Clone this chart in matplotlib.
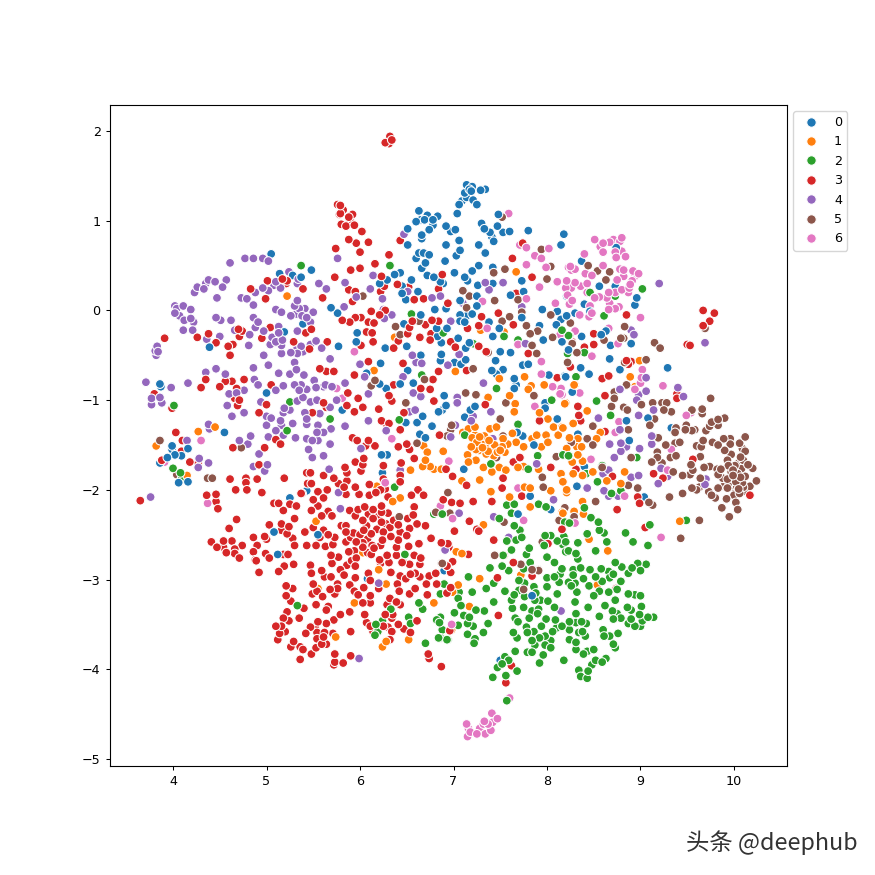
import numpy as np
import matplotlib
matplotlib.use('Agg')
import matplotlib.pyplot as plt
from matplotlib.lines import Line2D

labels = ['0', '1', '2', '3', '4', '5', '6']
colors = ['#1f77b4', '#ff7f0e', '#2ca02c', '#d62728', '#9467bd', '#8c564b', '#e377c2']

class_0 = [(5.05,0.63),(5.14,0.41),(5.28,0.39),(5.37,0.37),(5.48,0.45),(5.39,-0.15),(5.19,-0.24),(5.69,0.03),(5.76,-0.03),(4.39,-0.41),(5.77,-0.40),
(6.63,1.11),(6.69,1.01),(6.72,1.06),(6.83,1.05),(6.78,1.01),(6.60,0.99),(6.65,1.01),(6.78,0.95),(6.74,0.90),(6.51,0.91),(6.66,0.84),(6.66,0.80),(6.51,0.73),(6.92,0.94),(6.97,0.88),(7.02,0.90),(7.06,0.78),(6.92,0.73),(7.07,0.67),(7.03,0.61),(6.63,0.64),(6.68,0.64),(6.74,0.62),(6.60,0.58),(6.70,0.53),(6.66,0.47),(6.91,0.55),(7.14,1.40),(7.20,1.38),(7.17,1.35),(7.12,1.31),(7.19,1.33),(7.34,1.35),(7.29,1.34),(7.14,1.26),(7.21,1.23),(7.25,1.18),(7.06,1.18),(7.09,1.22),(7.04,1.08),(7.48,1.07),(7.30,0.97),(7.33,0.91),(7.47,0.94),(7.53,0.87),(7.60,0.88),(7.80,0.89),(8.18,0.85),(8.15,0.73),(7.39,0.87),(7.41,0.82),(7.43,0.77),(7.27,0.73),(7.34,0.64),(7.27,0.50),(7.20,0.44),(7.01,0.42),(7.12,0.37),(7.15,0.33),(6.72,0.39),(6.79,0.37),(6.86,0.32),(6.89,0.30),(6.55,0.34),(6.29,0.34),(6.37,0.40),(6.43,0.42),(6.21,0.30),(6.45,0.27),(6.45,0.19),(6.49,0.12),(6.62,0.21),(6.80,0.01),(6.92,0.02),(7.26,0.28),(7.42,0.48),(7.42,0.30),(7.73,0.33),(7.61,0.17),(7.75,0.21),(7.07,0.11),(7.25,0.16),(7.25,0.05),(7.07,-0.05),(7.14,-0.06),(7.20,-0.04),(7.07,-0.12),(7.12,-0.13),(7.38,-0.13),(7.73,-0.08),(7.95,0.01),(8.11,-0.01),(7.92,-0.17),(8.10,-0.16),(8.15,-0.10),(6.65,-0.05),(6.82,-0.20),(6.83,-0.29),(6.93,-0.20),(6.87,-0.36),(7.05,-0.31),(7.17,-0.36),(7.13,-0.42),(7.42,-0.29),(7.49,-0.20),(7.96,-0.33),(8.16,-0.35),(5.97,-0.25),(5.96,-0.35),(6.47,-0.15),(6.50,-0.40),(6.27,-0.42),
(8.74,0.70),(8.37,0.55),(8.56,0.27),(8.73,0.27),(8.21,0.16),(8.96,0.14),(8.94,0.06),(8.40,0.07),(8.30,-0.03),(8.46,-0.01),(8.21,-0.06),(8.37,-0.29),(8.58,-0.27),(8.63,-0.23),(8.90,-0.37),(8.68,-0.39),(8.23,-0.44),(8.67,-0.54),(8.36,-0.64),(8.78,-0.66),(9.29,-0.64),(8.45,-0.71),(8.19,-0.73),
(3.86,-0.82),(3.87,-0.85),(4.55,-1.36),(3.99,-1.51),(3.99,-1.55),(4.16,-1.54),(4.02,-1.61),(4.09,-1.62),(3.94,-1.64),(3.86,-1.70),(4.16,-1.91),(4.06,-1.92),(5.0,-0.92),(5.08,-2.47),(5.12,-2.72),(5.55,-2.50),(5.25,-2.09),(5.43,-2.01),
(6.65,-0.50),(6.87,-0.49),(6.86,-0.56),(6.51,-0.67),(6.22,-0.59),(6.07,-0.70),(6.21,-0.82),(6.28,-0.87),(6.43,-0.82),(6.57,-0.81),(7.01,-0.58),(7.08,-0.60),(7.13,-0.55),(6.90,-0.95),(6.92,-1.06),(6.88,-1.11),(6.84,-1.13),(6.67,-1.18),(6.49,-1.25),(6.61,-1.25),(6.77,-1.29),(6.64,-1.38),(6.70,-1.42),(6.23,-1.61),(6.29,-1.61),(6.24,-1.81),(7.11,-1.77),(7.12,-1.19),(7.23,-1.07),(7.18,-1.11),(7.41,-0.67),(7.46,-0.71),(7.53,-0.66),(7.45,-0.56),(7.50,-0.46),(7.61,-0.47),(7.74,-0.61),(7.80,-0.60),(7.65,-0.76),(7.67,-0.83),(7.65,-0.87),(8.02,-0.72),(7.98,-1.03),(7.98,-1.09),(7.68,-1.36),(7.74,-1.40),(7.86,-1.50),(8.11,-1.21),(7.82,-2.07),(8.04,-2.22),(7.69,-2.27),(6.90,-2.90),(5.81,-1.11),(8.20,-0.74),
(8.27,-0.91),(8.85,-1.23),(9.08,-1.20),(9.33,-1.31),(8.88,-1.45),(8.33,-1.38),(8.40,-1.74),(8.32,-1.96),(9.04,-2.08),
(6.08,-2.99),(7.84,-3.18),(7.50,-3.90)]

class_1 = [(5.22,0.16),(7.67,0.43),(7.29,-0.22),(6.37,-0.30),(7.54,-0.24),(8.89,-0.74),(8.29,-0.83),(8.99,-0.56),(8.94,-0.85),
(4.27,-1.35),(4.45,-1.30),(3.82,-1.51),(4.15,-1.84),(5.53,-2.35),
(6.15,-0.67),(7.02,-0.68),(7.76,-0.74),(7.83,-0.84),(7.80,-0.88),(7.97,-0.83),(7.60,-0.95),(7.66,-1.04),(7.37,-0.97),(7.49,-0.76),(7.92,-1.14),(7.65,-1.13),(8.20,-1.03),(7.16,-1.32),(7.23,-1.30),(7.10,-1.36),(7.23,-1.39),(7.33,-1.40),(7.32,-1.46),(7.25,-1.47),(7.19,-1.52),(7.24,-1.55),(7.15,-1.61),(7.34,-1.52),(7.35,-1.60),(7.41,-1.53),(7.50,-1.56),(7.53,-1.43),(7.58,-1.49),(7.67,-1.47),(7.55,-1.58),(7.63,-1.37),(7.46,-1.30),(7.39,-1.32),(7.24,-1.67),(7.16,-1.69),(7.32,-1.75),(7.49,-1.75),(7.56,-1.78),(7.41,-1.80),(7.28,-1.89),(7.09,-1.90),(7.40,-2.02),(7.75,-1.52),(7.84,-1.43),(7.89,-1.39),(7.99,-1.39),(8.01,-1.21),(8.07,-1.30),(8.16,-1.30),(8.21,-1.54),(8.12,-1.39),(7.94,-1.52),(8.01,-1.47),(7.69,-1.75),(7.75,-1.74),(7.91,-1.77),(8.15,-1.82),(8.17,-1.91),(8.21,-2.03),(8.04,-2.01),(7.60,-2.08),(7.82,-2.19),(7.76,-1.97),(7.82,-1.98),(6.68,-1.51),(6.72,-1.58),(6.70,-1.67),(6.75,-1.74),(6.67,-1.74),(6.79,-1.77),(6.87,-1.77),(6.54,-1.78),(6.89,-1.57),(6.18,-1.96),(6.43,-2.09),(6.35,-2.13),(7.32,-2.39),(7.03,-2.69),(7.09,-2.71),(6.03,-2.70),(8.16,-2.25),
(8.30,-0.83),(8.19,-1.04),(8.43,-1.12),(8.28,-1.26),(8.17,-1.31),(8.57,-1.36),(8.24,-1.42),(8.33,-1.43),(8.53,-1.43),(8.32,-1.52),(8.37,-1.52),(8.33,-1.61),(8.27,-1.69),(8.38,-1.68),(8.15,-1.82),(8.28,-1.82),(8.49,-1.80),(8.38,-1.84),(8.83,-1.80),(8.64,-1.90),(8.17,-1.90),(8.79,-1.93),(8.21,-2.0),(8.38,-2.13),(8.29,-2.24),(8.17,-2.26),(8.39,-2.27),(9.42,-2.35),(8.45,-2.55),(8.65,-2.68),(8.54,-3.06),
(6.20,-2.89),(6.28,-3.05),(5.94,-3.26),(5.55,-3.10),(5.74,-3.64),(6.28,-3.69),(6.24,-3.75),(6.52,-3.67),(6.79,-3.26),
(7.72,-2.95),(7.28,-2.99),(7.05,-3.06),(6.99,-3.14),(7.17,-3.30),(8.54,-3.05),(6.98,-3.56),
(7.37,-1.57),(7.31,-1.53),(7.44,-1.50),(7.47,-1.58),(7.28,-1.41),(7.38,-1.45),(7.52,-1.52),(7.27,-1.56),(7.43,-1.62),(7.20,-1.42)]

class_2 = [(5.37,0.50),(6.32,0.50),(6.55,-0.04),(8.16,-0.22),(7.69,-0.33),(7.54,-0.29),(6.89,-0.25),(8.23,-0.28),(7.21,-0.37),
(9.02,0.24),(8.61,-0.06),(8.46,0.20),(8.73,0.16),(8.24,-0.28),(8.40,-0.47),(8.31,-0.74),(8.22,-0.48),
(4.01,-1.06),(4.0,-1.76),(4.08,-1.81),(4.09,-1.88),(5.22,-1.34),(5.25,-1.02),(5.68,-1.21),
(6.66,-0.72),(6.42,-1.22),(7.46,-0.87),(8.05,-1.0),(7.69,-1.27),(7.12,-1.39),(7.90,-1.62),(7.80,-1.77),(8.17,-1.61),(8.23,-1.62),(7.40,-1.71),(6.37,-1.97),(6.79,-2.27),(6.88,-2.27),(7.57,-2.17),(7.65,-2.16),(7.91,-2.16),(7.99,-2.19),(7.62,-2.26),(7.49,-2.32),(7.65,-2.40),(7.71,-2.45),(7.73,-2.53),(7.67,-2.56),(7.57,-2.57),(7.62,-2.67),(7.53,-2.73),(7.81,-2.65),(7.78,-2.72),(7.98,-2.51),(8.04,-2.51),(8.11,-2.57),(7.97,-2.62),(8.17,-2.61),(8.23,-2.68),(8.0,-2.75),(6.48,-2.72),
(8.53,-1.01),(8.68,-1.17),(8.96,-1.64),(8.24,-1.62),(8.18,-1.61),(8.42,-1.82),(8.59,-1.73),(8.54,-1.91),(8.79,-2.01),(8.69,-2.04),(8.40,-2.20),(8.47,-2.31),(8.55,-2.36),(8.61,-2.48),(8.56,-2.45),(8.24,-2.37),(8.19,-2.36),(8.43,-2.49),(8.18,-2.52),(8.20,-2.58),(8.33,-2.59),(8.64,-2.58),(8.52,-2.68),(8.31,-2.71),(8.33,-2.77),(8.20,-2.69),(8.84,-2.48),(8.92,-2.58),(9.08,-2.62),(9.10,-2.39),(9.49,-2.34),
(5.33,-3.29),(6.90,-3.05),(6.86,-3.16),(6.63,-3.26),(6.67,-3.33),(6.52,-3.42),(6.54,-3.49),(6.33,-3.33),(6.24,-3.46),(6.17,-3.50),(6.19,-3.58),(6.16,-3.62),(6.70,-3.71),(6.84,-3.65),(6.93,-3.67),(6.88,-3.56),(6.85,-3.48),(6.82,-3.45),(6.86,-3.42),
(7.39,-2.87),(7.16,-2.97),(7.52,-2.85),(7.59,-2.90),(7.75,-2.88),(7.82,-2.81),(8.08,-2.81),(8.16,-2.88),(8.28,-2.89),(8.36,-2.87),(8.46,-2.89),(8.58,-2.88),(8.73,-2.81),(8.80,-2.86),(8.91,-2.87),(8.97,-2.82),(9.06,-2.83),(9.0,-2.90),(8.87,-2.93),(8.66,-2.91),(8.71,-2.94),(8.0,-2.98),(8.08,-2.97),(8.14,-2.94),(8.28,-2.95),(8.39,-2.99),(8.52,-2.97),(8.59,-3.02),(8.67,-2.98),(8.79,-3.02),(7.43,-3.04),(7.70,-3.01),(7.76,-3.04),(7.86,-3.08),(8.0,-3.08),(8.13,-3.03),(8.23,-3.03),(8.26,-3.07),(8.30,-3.04),(8.45,-3.07),(8.56,-3.13),(8.66,-3.14),(8.75,-3.11),(7.35,-3.10),(7.20,-3.14),(7.06,-3.14),(6.90,-3.05),(7.05,-3.21),(7.55,-3.13),(7.65,-3.17),(7.70,-3.12),(7.88,-3.15),(8.11,-3.16),(8.32,-3.14),(8.50,-3.18),(8.87,-3.16),(8.94,-3.17),(9.0,-3.18),(8.73,-3.23),(7.62,-3.23),(7.76,-3.19),(7.87,-3.23),(7.93,-3.23),(8.01,-3.24),(8.30,-3.25),(7.43,-3.25),(7.08,-3.29),(7.01,-3.37),(7.11,-3.40),(7.24,-3.34),(7.33,-3.35),(7.17,-3.42),(7.63,-3.32),(7.75,-3.31),(7.84,-3.35),(7.91,-3.33),(7.90,-3.38),(8.08,-3.31),(8.44,-3.31),(8.62,-3.29),(9.01,-3.30),(8.86,-3.31),(8.90,-3.34),(8.70,-3.35),(8.75,-3.38),(8.99,-3.39),(8.56,-3.41),(8.31,-3.38),(7.66,-3.43),(7.69,-3.47),(7.81,-3.43),(7.99,-3.44),(8.09,-3.45),(8.24,-3.47),(8.31,-3.48),(8.42,-3.49),(8.37,-3.47),(8.71,-3.44),(8.79,-3.43),(8.90,-3.44),(9.08,-3.42),(9.14,-3.42),(9.02,-3.46),(8.87,-3.49),(8.94,-3.52),(9.0,-3.52),(7.05,-3.51),(7.37,-3.49),(7.15,-3.49),(7.21,-3.52),(7.15,-3.61),(7.32,-3.59),(7.23,-3.66),(7.22,-3.71),(6.94,-3.67),(6.88,-3.56),(7.78,-3.53),(7.94,-3.52),(8.10,-3.54),(8.16,-3.52),(8.24,-3.56),(7.64,-3.59),(7.68,-3.65),(7.79,-3.59),(7.86,-3.58),(8.06,-3.58),(7.92,-3.65),(7.98,-3.63),(7.84,-3.68),(8.04,-3.68),(8.24,-3.67),(8.31,-3.70),(8.38,-3.58),(8.41,-3.63),(8.34,-3.59),(8.60,-3.56),(8.76,-3.60),(8.67,-3.63),(8.61,-3.63),(8.71,-3.72),(8.73,-3.76),(7.98,-3.73),(7.87,-3.73),(8.04,-3.76),(7.96,-3.84),(7.66,-3.80),(7.79,-3.81),(7.84,-3.81),(8.31,-3.78),(8.39,-3.83),(8.43,-3.80),(8.50,-3.78),(8.18,-3.90),(7.92,-3.93),(8.52,-3.90),(8.63,-3.88),(8.59,-3.92),(8.48,-3.95),(8.34,-4.01),(8.44,-4.02),(8.36,-4.08),(8.43,-4.10),(7.55,-3.86),(7.59,-3.90),(7.68,-4.02),(7.47,-3.98),(7.52,-3.94),(7.56,-4.07),(7.42,-4.09),(7.57,-4.35),(6.86,-3.65)]

class_3 = [(6.32,1.94),(6.27,1.87),(6.31,1.86),(6.34,1.90),
(3.91,-0.31),(4.26,-0.30),(4.38,-0.26),(4.46,-0.36),(4.59,-0.40),(4.64,-0.38),(4.71,-0.29),(4.70,-0.21),(4.74,-0.23),(4.95,-0.31),(5.04,-0.19),(5.29,-0.35),(5.42,-0.25),(5.48,-0.21),(5.65,-0.35),(5.46,-0.43),(4.83,0.24),(4.99,0.13),(5.01,0.33),(5.17,0.35),(5.22,0.33),(5.21,0.30),(5.39,0.24),(5.60,0.14),(5.73,0.37),(5.74,0.69),(5.76,1.18),(5.78,1.07),
(5.79,1.17),(5.82,1.12),(5.79,1.08),(5.92,1.07),(5.89,1.01),(5.85,0.94),(5.94,0.95),(5.80,0.96),(5.88,1.04),(6.02,0.88),(5.88,0.79),(5.96,0.75),(6.09,0.76),(6.0,0.65),(5.90,0.45),(6.0,0.47),(6.16,0.52),(6.31,0.62),(6.43,0.78),(5.88,0.23),(5.95,0.21),(5.92,0.10),(6.23,0.38),(6.26,0.27),(6.22,0.21),(6.40,0.29),(6.52,0.26),(6.58,0.12),(6.68,0.13),(6.84,0.24),(6.88,0.40),(6.94,0.08),(6.12,-0.01),(6.21,-0.05),(6.27,0.0),(5.81,-0.11),(5.89,-0.13),(5.95,-0.08),(6.01,-0.08),(6.09,-0.13),(6.15,-0.14),(6.07,-0.24),(6.13,-0.25),(6.14,-0.35),(6.01,-0.39),(6.36,-0.42),(6.51,-0.26),(6.56,-0.12),(6.53,-0.19),(6.70,-0.16),(6.77,-0.11),(6.84,-0.12),(6.64,-0.30),(6.76,-0.26),(6.75,-0.33),(6.41,-0.34),(6.97,-0.35),(7.02,-0.41),(7.15,-0.20),(7.30,-0.07),(7.27,-0.17),(7.48,-0.03),(7.27,-0.40),(7.64,-0.16),(7.63,0.58),(7.74,0.75),(7.84,0.37),(7.67,0.19),
(8.85,-0.05),(9.67,0.0),(9.79,-0.03),(9.74,-0.12),(9.67,-0.17),(9.50,-0.38),(9.53,-0.39),(8.50,-0.26),(8.50,-0.38),(8.40,-0.41),(8.85,-0.56),(8.90,-0.57),(8.87,-0.60),(8.66,-0.73),(8.59,-0.76),(8.25,-0.63),(8.27,-0.35),
(4.61,-0.50),(4.35,-0.77),(4.30,-0.86),(4.50,-0.85),(4.56,-0.79),(4.63,-0.79),(4.76,-0.77),(4.68,-0.87),(4.66,-0.98),(4.71,-1.0),(4.69,-1.06),(3.80,-0.93),(3.99,-1.09),(4.03,-1.36),(4.10,-1.45),(4.64,-1.53),(4.98,-1.53),(5.10,-1.44),(5.15,-1.49),(4.92,-1.14),(5.0,-1.05),(5.05,-0.83),(5.57,-0.65),(5.64,-0.68),(5.72,-0.68),(5.49,-1.14),(5.61,-1.03),(5.64,-1.08),(4.18,-1.69),(4.27,-1.70),(4.92,-1.72),(3.88,-1.67),(4.09,-1.57),(3.65,-2.12),(4.36,-2.06),(4.46,-2.05),(4.46,-2.13),(4.48,-2.21),(4.61,-1.88),(4.78,-1.87),(4.78,-1.92),(4.90,-1.88),(4.67,-2.0),(4.79,-2.0),(4.95,-2.03),(5.19,-1.87),(5.08,-2.15),(5.13,-2.15),(5.25,-2.16),(5.18,-2.23),(5.32,-2.18),(5.37,-2.04),(5.43,-1.81),(5.47,-1.81),(5.44,-1.93),(5.48,-1.93),(5.38,-2.04),(5.50,-2.11),(5.55,-2.02),(5.61,-2.09),(5.65,-2.0),(5.61,-1.84),(5.72,-1.87),(5.77,-1.93),(5.55,-2.18),(5.48,-2.23),(5.66,-2.24),(5.59,-2.29),(5.70,-2.29),(5.30,-2.32),(5.03,-2.39),(5.16,-2.38),(5.24,-2.41),(5.22,-2.49),(5.16,-2.45),(5.50,-2.42),(5.41,-2.47),(5.61,-2.45),(5.66,-2.50),(5.73,-2.53),(5.28,-2.54),(5.30,-2.62),(5.43,-2.62),(5.53,-2.62),(5.63,-2.63),(5.71,-2.61),(5.57,-2.53),(4.68,-2.33),(4.60,-2.43),(4.41,-2.58),(4.47,-2.64),(4.54,-2.57),(4.63,-2.57),(4.54,-2.64),(4.74,-2.62),(4.57,-2.70),(4.66,-2.66),(4.66,-2.71),(4.71,-2.76),(4.86,-2.53),(4.98,-2.52),(5.0,-2.55),(4.90,-2.62),(4.86,-2.69),(4.88,-2.78),(4.99,-2.71),(5.03,-2.76),(5.18,-2.72),(5.23,-2.72),(5.77,-2.75),(5.69,-2.73),
(5.94,-0.72),(5.98,-0.98),(5.87,-0.92),(5.86,-1.06),(5.94,-1.13),(6.03,-1.08),(6.20,-1.10),(6.31,-0.95),(6.34,-1.01),(6.36,-0.83),(6.46,-0.59),(6.65,-0.87),(6.75,-0.88),(6.78,-0.77),(6.84,-0.68),(6.79,-1.01),(6.47,-1.14),(6.23,-1.23),(6.31,-1.26),(6.43,-1.33),(6.29,-1.28),(5.92,-1.42),(5.97,-1.45),(6.09,-1.45),(6.16,-1.51),(6.06,-1.51),(6.41,-1.52),(6.53,-1.55),(6.50,-1.49),(6.58,-1.65),(5.95,-1.69),(6.04,-1.65),(6.03,-1.72),(6.01,-1.79),(5.84,-1.75),(5.86,-1.81),(6.25,-1.73),(6.44,-1.70),(6.43,-1.84),(6.43,-1.91),(6.25,-1.88),(6.99,-1.85),(6.85,-1.39),(6.92,-1.77),(7.14,-1.95),(5.86,-1.90),(5.83,-1.97),(5.95,-1.97),(5.85,-2.05),(5.99,-2.05),(6.10,-1.94),(6.10,-2.06),(6.17,-2.03),(6.22,-2.0),(6.27,-1.99),(6.30,-2.08),(6.23,-2.18),(6.55,-2.06),(6.62,-2.0),(6.68,-2.06),(6.58,-2.19),(5.89,-2.23),(5.98,-2.22),(6.05,-2.19),(6.14,-2.22),(6.23,-2.25),(6.09,-2.27),(6.30,-2.26),(6.57,-2.28),(6.51,-2.32),(6.03,-2.34),(5.95,-2.29),(6.14,-2.32),(6.23,-2.36),(6.36,-2.34),(6.32,-2.42),(6.41,-2.39),(6.61,-2.38),(6.70,-2.40),(6.53,-2.43),(5.85,-2.40),(5.80,-2.40),(5.85,-2.47),(5.93,-2.48),(6.04,-2.45),(6.25,-2.47),(6.12,-2.49),(6.33,-2.52),(6.50,-2.51),(7.01,-2.46),(6.76,-2.54),(6.63,-2.60),(6.41,-2.56),(6.24,-2.56),(5.85,-2.58),(5.96,-2.58),(6.03,-2.59),(6.13,-2.62),(6.22,-2.62),(6.39,-2.64),(6.52,-2.63),(5.88,-2.69),(5.94,-2.68),(6.03,-2.64),(6.29,-2.73),(6.39,-2.73),(6.58,-2.73),(6.12,-2.72),(6.21,-2.78),(5.91,-2.79),(5.96,-2.76),(6.46,-2.80),(6.65,-2.76),(6.87,-2.59),(6.94,-2.60),(6.95,-2.64),(7.16,-2.72),(7.25,-2.44),(7.17,-2.35),(7.27,-2.46),(7.07,-2.15),(7.21,-2.13),(6.98,-2.14),(6.89,-2.11),(7.92,-1.23),(8.04,-1.75),(7.53,-1.87),(7.52,-1.98),(7.73,-2.07),(7.41,-2.13),(7.64,-1.69),(7.71,-1.64),(7.34,-1.05),(7.14,-0.67),(7.80,-0.48),(8.11,-0.75),(7.43,-2.56),(8.01,-2.60),(7.54,-2.73),(7.35,-0.46),(6.09,-0.57),
(8.62,-0.95),(9.39,-0.93),(9.39,-0.98),(8.33,-1.07),(8.34,-1.17),(8.36,-1.23),(8.62,-1.35),(9.56,-1.66),(9.14,-1.82),(9.24,-1.87),(8.70,-1.85),(8.31,-1.77),(8.97,-2.08),(8.99,-2.15),(8.75,-2.22),(10.17,-2.06),(9.05,-2.42),(8.16,-2.44),(8.74,-3.10),
(4.89,-2.79),(4.92,-2.92),(5.13,-2.91),(5.19,-2.85),(5.29,-2.83),(5.48,-2.93),(5.47,-2.84),(5.59,-2.90),(5.62,-2.97),(5.69,-2.97),(5.70,-2.82),(5.79,-2.89),(5.83,-2.95),(5.86,-2.84),(5.95,-2.85),(5.95,-2.98),(6.09,-2.93),(6.11,-3.01),(6.20,-3.10),(6.33,-2.92),(6.31,-2.81),(6.22,-2.82),(6.43,-2.96),(6.49,-2.99),(6.54,-2.94),(6.59,-2.93),(6.64,-2.97),(6.53,-2.83),(6.64,-2.83),(6.45,-2.81),(6.74,-2.96),(6.81,-2.93),(6.71,-3.05),(6.82,-3.05),(6.59,-3.10),(6.40,-3.05),(6.42,-3.13),(6.53,-3.16),(6.72,-3.17),(6.93,-3.15),(6.93,-2.85),(5.21,-3.07),(5.28,-3.10),(5.21,-3.18),(5.26,-3.24),(5.40,-3.32),(5.22,-3.36),(5.18,-3.43),(5.24,-3.46),(5.35,-3.43),(5.10,-3.52),(5.16,-3.52),(5.20,-3.58),(5.14,-3.60),(5.12,-3.67),(5.29,-3.69),(5.26,-3.75),(5.36,-3.75),(5.39,-3.78),(5.36,-3.89),(5.48,-3.83),(5.50,-3.05),(5.54,-3.13),(5.49,-3.16),(5.60,-3.19),(5.68,-3.11),(5.76,-3.05),(5.73,-3.16),(5.76,-3.10),(5.89,-3.06),(5.94,-3.13),(5.98,-3.17),(6.04,-3.09),(6.11,-3.18),(6.11,-3.26),(6.03,-3.26),(6.29,-3.28),(6.32,-3.21),(6.39,-3.25),(6.43,-3.28),(5.53,-3.28),(5.66,-3.30),(5.64,-3.34),(5.79,-3.39),(5.89,-3.36),(6.05,-3.39),(6.27,-3.39),(6.35,-3.39),(6.34,-3.43),(6.07,-3.48),(5.72,-3.45),(5.64,-3.49),(5.55,-3.47),(5.47,-3.53),(5.52,-3.52),(5.42,-3.60),(5.54,-3.59),(5.62,-3.59),(5.71,-3.60),(5.90,-3.58),(5.61,-3.64),(5.54,-3.66),(5.64,-3.72),(5.59,-3.72),(5.53,-3.76),(5.73,-3.83),(5.90,-3.85),(5.73,-3.92),(5.72,-3.95),(5.82,-3.93),(6.11,-3.52),(6.14,-3.58),(6.25,-3.52),(6.30,-3.53),(6.34,-3.58),(6.41,-3.50),(6.47,-3.55),(6.54,-3.59),(6.61,-3.46),(6.32,-3.67),(6.73,-3.83),(6.74,-3.88),(6.87,-3.97),
(7.48,-3.40),(7.62,-3.96),(7.56,-4.15),(7.64,-2.81),(7.84,-2.96),(7.47,-2.98),(8.74,-3.10),(6.99,-2.80),(6.97,-2.92),(6.93,-2.85),(6.97,-3.09),(6.93,-3.15),(6.96,-3.57),
(6.07,-2.40),(6.18,-2.44),(6.08,-2.55),(6.19,-2.30),(6.28,-2.38),(6.00,-2.50),(6.15,-2.65),(6.08,-2.70),(5.90,-2.53),(6.43,-2.47)]

class_4 = [(4.77,0.58),(4.86,0.58),(4.96,0.58),(5.02,0.55),(4.61,0.53),(4.57,0.34),(4.53,0.26),(4.45,0.32),(4.35,0.30),(4.38,0.34),(4.26,0.26),(4.33,0.24),(4.23,0.20),(4.47,0.14),(4.11,0.05),(4.02,0.05),(4.04,0.02),(4.19,0.01),(4.02,-0.03),(4.07,-0.06),(4.19,-0.09),(4.22,-0.13),(4.12,-0.11),(4.11,-0.22),(4.21,-0.22),(4.46,-0.08),(4.51,-0.11),(4.62,-0.11),(4.86,-0.08),(4.91,-0.13),(4.88,-0.19),(4.66,-0.22),(4.82,-0.27),(4.50,-0.29),(4.36,-0.32),(3.83,-0.40),(3.81,-0.45),(4.86,0.06),(4.73,0.14),(4.79,0.13),(4.88,0.20),(4.96,0.25),(5.02,0.22),(5.10,0.32),(5.08,0.28),(5.15,0.25),(5.24,0.43),(5.33,0.30),(5.34,0.35),(5.56,0.30),(5.64,0.24),(5.76,0.58),(5.33,0.11),(5.30,0.05),(5.35,0.02),(5.41,0.02),(5.50,-0.02),(5.38,-0.06),(5.26,-0.06),(5.32,-0.04),(5.43,-0.08),(5.47,-0.13),(5.10,0.01),(5.16,-0.02),(5.13,-0.18),(4.97,-0.23),(5.13,-0.25),(5.33,-0.23),(5.06,-0.30),(5.17,-0.33),(5.10,-0.35),(5.04,-0.38),(5.16,-0.39),(4.81,-0.39),(5.37,-0.40),(5.53,-0.34),(5.47,-0.38),(5.59,-0.42),(5.32,-0.44),
(6.47,0.85),(5.84,0.31),(6.14,0.39),(6.11,0.24),(5.96,0.15),(6.24,0.13),(5.83,0.04),(6.25,0.01),(6.34,-0.05),(6.26,-0.09),(6.51,0.21),(6.77,0.14),(6.86,0.16),(7.34,0.31),(7.38,0.23),(7.53,0.31),(7.10,0.08),(6.97,-0.12),(7.73,0.04),(7.77,-0.37),
(9.20,0.30),(8.90,-0.22),(8.93,-0.27),(9.69,-0.36),(9.06,-0.75),(9.40,-0.86),(8.78,-0.88),
(3.82,-0.50),(3.84,-0.46),(3.71,-0.80),(3.98,-0.86),(4.16,-0.81),(3.77,-0.98),(3.86,-0.97),(3.77,-1.05),(3.88,-1.03),(4.38,-1.27),(4.39,-1.32),(4.71,-1.45),(4.80,-1.49),(4.83,-1.40),(4.92,-1.60),(4.86,-1.74),(4.98,-1.79),(5.01,-1.72),(4.38,-1.70),(4.27,-1.75),(4.28,-1.65),(3.76,-2.08),(4.15,-1.45),(4.35,-0.69),(4.46,-0.65),(4.56,-0.71),(4.60,-0.93),(4.63,-1.18),(4.58,-1.06),(4.76,-0.89),(4.76,-1.14),(4.68,-0.92),(4.87,-0.77),(4.91,-0.83),(4.86,-0.64),(4.97,-0.50),(5.02,-0.61),(5.13,-0.70),(5.18,-0.84),(5.10,-0.89),(4.94,-1.02),(5.25,-0.71),(5.30,-0.58),(5.32,-0.66),(5.16,-0.48),(5.26,-0.47),(5.33,-0.48),(5.39,-0.46),(5.40,-0.72),(5.30,-0.83),(5.37,-0.83),(5.51,-0.78),(5.35,-0.89),(5.43,-0.88),(5.53,-0.86),(5.63,-0.83),(5.70,-0.85),(5.68,-0.54),(5.61,-0.85),(5.39,-0.97),(5.33,-1.01),(5.47,-1.02),(5.54,-1.00),(5.41,-1.14),(5.57,-1.15),(5.68,-1.08),(5.75,-1.00),(5.43,-1.21),(5.43,-1.27),(5.55,-1.28),(5.69,-1.32),(5.54,-1.36),(5.61,-1.36),(5.19,-1.09),(5.25,-1.11),(5.18,-1.14),(5.0,-1.18),(5.05,-1.20),(5.0,-1.28),(5.10,-1.34),(5.15,-1.23),(5.16,-1.28),(5.28,-1.26),(5.02,-1.41),(5.18,-1.39),(5.31,-1.42),(5.43,-1.43),(5.49,-1.45),(5.55,-1.45),(5.68,-1.49),(5.45,-1.55),(5.49,-1.64),(5.61,-1.62),(5.67,-1.77),(5.77,-2.03),(5.79,-2.21),
(6.0,-0.60),(6.05,-0.74),(5.84,-0.81),(6.09,-0.93),(6.46,-0.74),(6.57,-0.92),(6.65,-0.96),(6.56,-0.50),(6.66,-0.59),(6.60,-0.58),(6.94,-0.61),(7.06,-0.49),(7.32,-0.81),(7.04,-0.97),(7.04,-1.03),(6.53,-1.13),(6.59,-1.11),(6.09,-1.23),(5.84,-1.29),(6.01,-1.54),(6.28,-1.34),(6.97,-1.41),(7.02,-1.28),(7.21,-1.18),(7.19,-1.23),(7.40,-1.13),(7.42,-1.43),(7.89,-1.71),(8.07,-2.11),(6.43,-1.78),(7.06,-2.26),(7.43,-2.30),(7.59,-2.53),(6.91,-2.67),
(8.78,-0.88),(9.06,-0.90),(8.98,-0.94),(8.96,-1.0),(9.40,-0.87),(9.46,-0.96),(8.98,-1.17),(9.14,-1.11),(8.55,-1.20),(8.78,-1.33),(8.67,-1.49),(8.79,-1.48),(8.85,-1.52),(8.79,-1.57),(8.72,-1.64),(8.99,-1.54),(9.12,-1.40),(9.12,-1.49),(9.22,-1.76),(9.29,-1.85),(9.19,-1.93),(8.90,-1.86),(8.98,-1.84),(8.60,-1.82),(8.66,-1.78),(8.61,-2.01),(8.66,-2.07),(8.76,-2.07),(8.43,-1.98),(9.70,-1.88),(9.69,-1.94),
(6.20,-3.04),(5.99,-3.88),(8.15,-3.35)]

class_5 = [(7.52,1.04),(7.94,0.68),(7.55,0.46),(7.43,0.42),(8.04,0.49),(8.0,0.35),(7.10,0.22),(7.17,0.16),(7.14,0.03),(7.44,0.11),(7.69,0.12),(7.73,-0.02),(7.60,-0.07),(7.52,-0.12),(8.04,-0.05),(7.78,-0.17),(7.82,-0.26),(7.90,-0.23),(8.06,-0.30),(7.84,-0.39),(6.03,0.16),(6.38,-0.18),(6.63,-0.12),(6.43,-0.27),
(8.44,0.50),(8.54,0.44),(8.67,0.43),(8.63,0.34),(8.25,-0.14),(8.83,-0.18),(8.79,-0.31),(8.82,-0.31),(8.61,-0.33),(8.27,-0.37),(8.32,-0.47),(8.22,-0.58),(9.15,-0.36),(9.21,-0.42),(9.06,-0.55),(8.83,-0.58),(8.85,-0.83),(9.69,-0.20),
(3.86,-1.45),(4.73,-1.53),(4.04,-1.83),(4.37,-1.87),(4.42,-1.87),
(6.16,-0.78),(6.12,-0.84),(6.49,-1.03),(6.69,-0.77),(7.21,-0.65),(7.13,-0.92),(7.24,-0.94),(6.98,-1.28),(6.97,-1.33),(6.93,-1.40),(6.61,-1.48),(7.50,-1.21),(7.56,-1.03),(7.86,-0.95),(7.37,-0.47),(7.89,-0.48),(8.10,-1.63),(7.95,-1.86),(7.96,-1.97),(8.13,-2.34),(7.46,-1.64),(7.53,-1.40),(6.94,-2.03),(6.81,-2.25),(6.96,-2.26),(7.54,-2.36),(6.42,-2.30),(6.88,-2.82),(7.44,-2.73),(7.84,-2.89),(7.91,-2.89),(7.95,-2.58),
(9.75,-0.98),(9.66,-1.10),(9.66,-1.15),(9.55,-1.11),(9.23,-1.03),(9.28,-1.03),(9.13,-1.03),(9.01,-1.05),(8.82,-1.08),(8.86,-1.11),(9.25,-1.11),(9.33,-1.13),(9.15,-1.21),(9.10,-1.28),(9.90,-1.20),(9.83,-1.215),(9.76,-1.245),(9.83,-1.28),(9.74,-1.29),(9.70,-1.34),(9.49,-1.28),(9.48,-1.33),(9.38,-1.31),(9.55,-1.34),(9.58,-1.33),(9.37,-1.36),(9.19,-1.42),(9.27,-1.50),(9.37,-1.48),(9.42,-1.47),(9.67,-1.45),(9.77,-1.47),(9.83,-1.50),(9.89,-1.43),(9.96,-1.43),(10.12,-1.41),(10.06,-1.48),(9.96,-1.49),(10.09,-1.54),(10.12,-1.57),(9.90,-1.56),(9.97,-1.605),(10.07,-1.635),(9.60,-1.51),(9.65,-1.52),(9.64,-1.63),(9.18,-1.58),(9.18,-1.64),(9.12,-1.69),(9.23,-1.70),(8.90,-1.64),(9.38,-1.62),(9.32,-1.64),(9.54,-1.72),(9.68,-1.75),(9.74,-1.74),(9.82,-1.77),(9.93,-1.67),(10.01,-1.73),(10.15,-1.72),(10.2,-1.76),(10.08,-1.765),(9.86,-1.77),(9.99,-1.78),(9.56,-1.78),(9.53,-1.83),(9.45,-1.84),(9.35,-1.80),(9.64,-1.87),(9.83,-1.83),(9.88,-1.87),(10.0,-1.86),(10.12,-1.85),(10.24,-1.90),(10.17,-1.96),(10.02,-1.91),(9.95,-1.92),(9.89,-1.96),(9.83,-1.98),(10.05,-1.99),(10.13,-2.02),(10.0,-2.06),(10.06,-2.04),(9.55,-1.98),(9.63,-1.97),(9.60,-2.0),(9.73,-2.02),(9.76,-2.06),(9.80,-2.09),(9.45,-2.04),(9.31,-2.08),(9.92,-2.10),(10.02,-2.14),(9.87,-2.20),(10.04,-2.22),(9.95,-2.30),(9.63,-2.34),(9.43,-2.54),(9.13,-2.17),(9.09,-2.14),(8.97,-1.98),(8.87,-1.95),
(8.85,-0.83),(8.72,-0.91),(8.72,-0.98),(8.69,-1.07),(8.87,-1.33),(8.49,-1.29),(8.43,-1.43),(8.49,-1.50),(8.26,-1.47),(8.21,-1.54),(8.59,-1.75),(8.52,-2.13),(8.29,-2.30),(8.19,-2.20),
(6.88,-2.82),(7.85,-2.89),(7.91,-2.90),(7.72,-2.83),(7.75,-3.11),(6.87,-2.82),
(9.97,-1.80),(9.99,-1.84),(10.04,-1.82),(10.07,-1.86),(10.03,-1.96),(9.93,-1.88),(10.09,-1.92),(10.10,-1.97),(9.98,-1.95),(9.94,-1.73),(10.05,-1.70),(10.1,-1.67),(9.93,-1.98),(10.02,-2.02)]

class_6 = [(7.59,1.08),(7.71,0.73),(7.78,0.70),(8.02,0.69),(7.87,0.61),(7.94,0.58),(7.78,0.51),(7.99,0.48),(8.11,0.32),(8.21,0.25),(8.23,0.48),(7.92,0.26),(7.78,0.13),(7.31,0.10),(8.09,0.08),(7.36,-0.20),(8.14,-0.27),(7.69,-0.38),(8.22,0.17),
(8.51,0.79),(8.57,0.71),(8.60,0.75),(8.60,0.65),(8.67,0.76),(8.71,0.79),(8.80,0.81),(8.78,0.77),(8.73,0.65),(8.80,0.66),(8.84,0.60),(8.74,0.59),(8.40,0.63),(8.25,0.49),(8.30,0.46),(8.26,0.45),(8.60,0.50),(8.41,0.41),(8.48,0.39),(8.78,0.46),(8.82,0.45),(8.92,0.44),(8.98,0.41),(8.94,0.38),(8.82,0.38),(8.75,0.34),(8.91,0.33),(8.21,0.33),(8.30,0.31),(8.43,0.30),(8.36,0.27),(8.26,0.25),(8.20,0.25),(8.89,0.29),(8.88,0.25),(8.80,0.23),(8.87,0.20),(8.73,0.20),(8.66,0.20),(8.43,0.20),(8.56,0.15),(8.51,0.14),(8.64,0.14),(8.27,0.11),(8.24,0.07),(8.67,0.08),(8.46,0.05),(8.66,0.01),(8.73,0.02),(8.77,0.04),(8.35,-0.05),(8.45,-0.07),(8.48,-0.03),(9.0,-0.08),(8.30,-0.23),(8.66,-0.20),(8.76,-0.37),(8.48,-0.51),(9.02,-0.66),(9.01,-0.75),(9.0,-0.81),(9.24,-0.84),
(4.30,-1.45),(4.37,-2.15),(5.75,-0.87),(3.91,-1.69),
(6.34,-1.43),(6.95,-1.68),(6.27,-1.92),(6.86,-2.18),(6.99,-2.32),(7.69,-1.98),(7.75,-2.34),(7.87,-1.07),(7.94,-0.71),(7.94,-0.57),(8.06,-0.85),(8.15,-0.87),(8.14,-0.93),(5.94,-0.46),(5.81,-0.98),
(8.94,-0.88),(9.54,-1.14),(9.49,-1.17),(8.77,-1.24),(8.73,-1.36),(9.33,-1.55),(9.29,-1.78),(8.83,-2.07),(8.47,-1.66),(9.22,-2.53),(8.35,-0.92),(8.16,-0.94),(8.30,-2.37),
(6.98,-3.50),(7.60,-4.32),(7.41,-4.49),(7.47,-4.55),(7.33,-4.58),(7.37,-4.61),(7.42,-4.59),(7.28,-4.66),(7.40,-4.68),(7.34,-4.72),(7.25,-4.72),(7.18,-4.70),(7.16,-4.66),(7.14,-4.61),(7.15,-4.75),(7.32,-4.61)]

classes = [class_0, class_1, class_2, class_3, class_4, class_5, class_6]

xs = np.array([p[0] for c in classes for p in c])
ys = np.array([p[1] for c in classes for p in c])
cs = np.array([colors[i] for i, c in enumerate(classes) for _ in c])
# the reference mixes classes in the draw order
order = np.argsort((xs * 7919 + ys * 104729) % 97)

plt.rcParams['font.size'] = 9.2
fig = plt.figure(figsize=(8.75, 8.75), dpi=100)
ax = fig.add_axes([110 / 875, 1 - 766 / 875, 677 / 875, 661 / 875])
ax.scatter(xs[order], ys[order], c=cs[order], s=40, edgecolors='white', linewidths=0.75)
ax.set_xlim(3.326, 10.567)
ax.set_ylim(-5.078, 2.29)
ax.set_xticks([4, 5, 6, 7, 8, 9, 10])
ax.set_yticks([-5, -4, -3, -2, -1, 0, 1, 2])
ax.tick_params(labelsize=9.2, length=3.2, width=0.75)

handles = [Line2D([], [], linestyle='none', marker='o', markersize=6.8, markerfacecolor=col,
                  markeredgecolor='white', markeredgewidth=0.75) for col in colors]
ax.legend(handles, labels, loc='upper left', bbox_to_anchor=(1.009, 0.991), borderaxespad=0, fontsize=9.2)

fig.text(686 / 875, 1 - 843 / 875, '头条 @deephub', family=['Noto Sans CJK SC', 'DejaVu Sans'],
         fontsize=16.8, color='#333333', va='center', ha='left', fontweight='light')

fig.savefig('out.png', dpi=100)
